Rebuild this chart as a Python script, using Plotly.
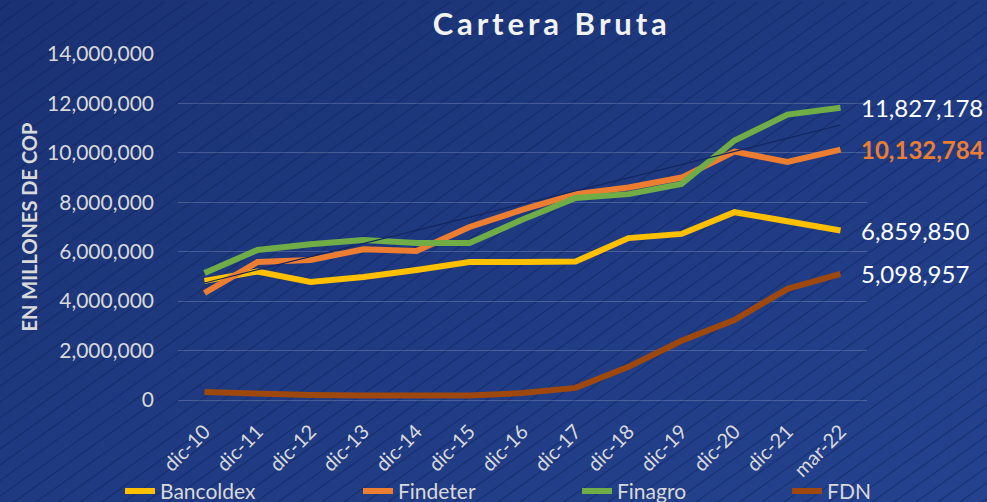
import base64
import numpy as np
import plotly.graph_objects as go

categories = ["dic-10", "dic-11", "dic-12", "dic-13", "dic-14", "dic-15", "dic-16",
              "dic-17", "dic-18", "dic-19", "dic-20", "dic-21", "mar-22"]

bancoldex = [4820000, 5200000, 4780000, 4980000, 5260000, 5580000, 5580000,
             5600000, 6550000, 6720000, 7600000, 7200000, 6859850]
findeter = [4330000, 5580000, 5660000, 6100000, 6030000, 7000000, 7700000,
            8330000, 8600000, 9000000, 10050000, 9630000, 10132784]
finagro = [5140000, 6070000, 6300000, 6470000, 6350000, 6350000, 7300000,
           8170000, 8330000, 8740000, 10500000, 11550000, 11827178]
fdn = [320000, 250000, 200000, 180000, 160000, 180000, 280000,
       490000, 1340000, 2400000, 3240000, 4500000, 5098957]

series = [
    ("Bancoldex", bancoldex, "#FFC000"),
    ("Findeter", findeter, "#ED7D31"),
    ("Finagro", finagro, "#70AD47"),
    ("FDN", fdn, "#9E480E"),
]

W, H = 987, 502
L, R, T, B = 178, 120, 54, 102
pw, ph = W - L - R, H - T - B

# background: gradient + diagonal stripes as an inline svg
stripes = "".join(
    f'<line x1="{x0}" y1="{H}" x2="{x0 + 700}" y2="{H - 500}" />'
    for x0 in range(-800, W + 40, 22)
)
svg = (
    f'<svg xmlns="http://www.w3.org/2000/svg" width="{W}" height="{H}">'
    '<defs><linearGradient id="g" x1="0" y1="0" x2="1" y2="1">'
    '<stop offset="0" stop-color="#1a3273"/><stop offset="1" stop-color="#24428f"/>'
    '</linearGradient></defs>'
    f'<rect width="{W}" height="{H}" fill="url(#g)"/>'
    f'<g stroke="#10235c" stroke-opacity="0.45" stroke-width="1.3">{stripes}</g>'
    '</svg>'
)
bg = "data:image/svg+xml;base64," + base64.b64encode(svg.encode()).decode()

fig = go.Figure()

# one legend box per series so each entry sits where the original puts it
legend_x = [0.1216, 0.3627, 0.5846, 0.7974]
legend_ids = ["legend", "legend2", "legend3", "legend4"]

for (name, vals, color), lid in zip(series, legend_ids):
    fig.add_trace(go.Scatter(
        x=categories, y=vals, name=name, mode="lines", legend=lid,
        line=dict(color=color, width=6),
    ))

# linear trend of Finagro (thin dark line)
idx = np.arange(len(categories))
k, b = np.polyfit(idx, finagro, 1)
fig.add_trace(go.Scatter(
    x=categories, y=k * idx + b, mode="lines", showlegend=False,
    line=dict(color="#13265e", width=1.2), hoverinfo="skip",
))

labels = [
    (finagro[-1], "white", False),
    (findeter[-1], "#ED7D31", True),
    (bancoldex[-1], "white", False),
    (fdn[-1], "white", False),
]
for val, color, bold in labels:
    txt = f"{val:,}"
    fig.add_annotation(
        x=categories[-1], y=val, xanchor="left", yanchor="middle", xshift=18,
        text=f"<b>{txt}</b>" if bold else txt, showarrow=False,
        font=dict(color=color, size=24, family="Lato"),
    )

legends = {
    lid: dict(
        orientation="h", xref="container", x=lx, xanchor="left",
        yref="container", y=0.062, yanchor="top",
        font=dict(size=21, color="#d9d9d9"), bgcolor="rgba(0,0,0,0)",
    )
    for lid, lx in zip(legend_ids, legend_x)
}

fig.update_layout(
    width=W, height=H,
    margin=dict(l=L, r=R, t=T, b=B, autoexpand=False),
    paper_bgcolor="#1d387f",
    plot_bgcolor="rgba(0,0,0,0)",
    font=dict(family="Lato", color="#d9d9d9", size=20),
    title=dict(
        text="<b>C\u2009a\u2009r\u2009t\u2009e\u2009r\u2009a\u2002B\u2009r\u2009u\u2009t\u2009a</b>",
        x=0.557, xanchor="center", y=0.952, yanchor="middle",
        font=dict(size=31, color="#f2f2f2", family="Lato"),
    ),
    images=[dict(
        source=bg, xref="paper", yref="paper",
        x=-L / pw, y=1 + T / ph, sizex=W / pw, sizey=H / ph,
        xanchor="left", yanchor="top", sizing="stretch", layer="below",
    )],
    showlegend=True,
    **legends,
)

fig.update_xaxes(
    type="category", range=[-0.5, len(categories) - 0.5], automargin=False,
    tickangle=-45, showgrid=False, showline=False, zeroline=False,
    tickfont=dict(size=20, color="#d9d9d9"), ticks="", ticklabelstandoff=15,
)
fig.update_yaxes(
    range=[0, 14000000], dtick=2000000, tickformat=",d", automargin=False,
    showgrid=True, gridcolor="rgba(255,255,255,0.18)", gridwidth=1,
    zeroline=True, zerolinecolor="rgba(255,255,255,0.18)", zerolinewidth=1,
    tickfont=dict(size=21, color="#d9d9d9"), ticks="", ticklabelstandoff=23,
    title=dict(text="<b>EN MILLONES DE COP</b>", font=dict(size=20, color="#d9d9d9"), standoff=4),
)

# drop the page's default 8px body margin so the figure sits at the window corner
fig.write_html("out.html", config={"displayModeBar": False},
               post_script="document.body.style.margin='0';")
